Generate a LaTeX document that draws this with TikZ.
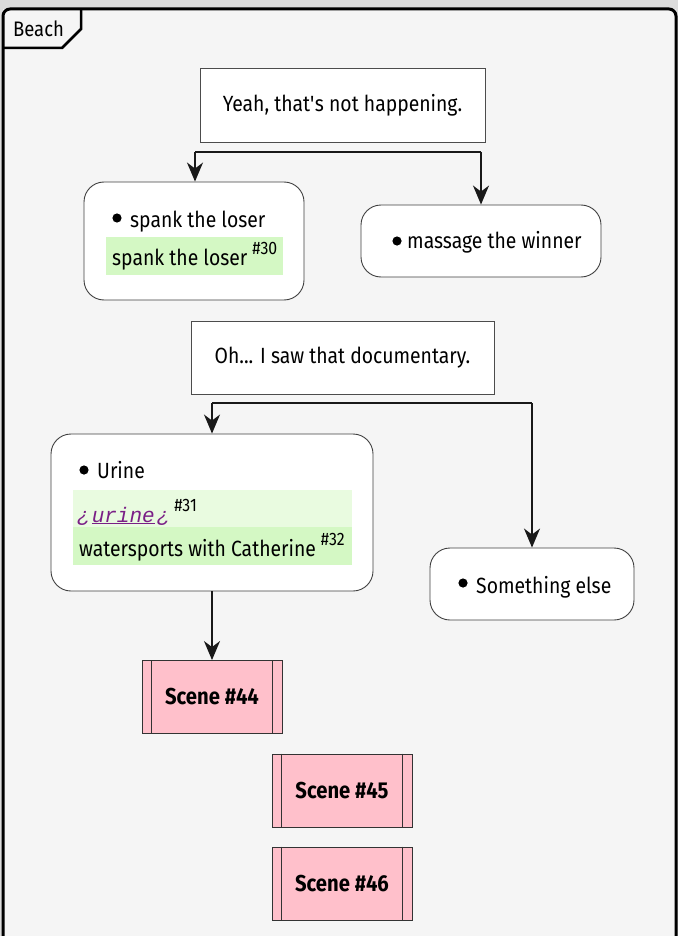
\documentclass[tikz,border=0pt]{standalone}
\usepackage{fontspec}
\setmainfont[FakeStretch=0.88]{Fira Sans}
\newfontfamily\monof{Liberation Mono}
\usetikzlibrary{arrows.meta}
\definecolor{bg}{HTML}{F5F5F5}
\definecolor{outer}{HTML}{DCDCDC}
\definecolor{hlA}{HTML}{D4F8C4}
\definecolor{hlB}{HTML}{E9FBE0}
\definecolor{scenepink}{HTML}{FFC0CB}
\definecolor{linkpurple}{HTML}{7A1F86}
\tikzset{
  notebox/.style={draw=black!70, fill=white, line width=0.8pt, inner sep=0pt},
  choice/.style={draw=black!75, fill=white, line width=0.9pt, rounded corners=20pt, inner sep=0pt},
  scenebox/.style={draw=black!80, fill=scenepink, line width=0.9pt, inner sep=0pt, minimum width=140pt, minimum height=73pt, font=\fontsize{23}{26}\selectfont\bfseries},
  hl/.style={inner sep=0pt, anchor=north west},
  txt/.style={inner sep=0pt, anchor=base west},
  dotb/.style={fill=black},
  flow/.style={line width=1.8pt, draw=black!90, -{Stealth[length=19pt,width=16pt,inset=6pt]}},
  bar/.style={line width=1.8pt, draw=black!90},
}
\newcommand{\sprs}[1]{\raisebox{11pt}{\fontsize{18}{18}\selectfont\hspace{5pt}#1}}
\begin{document}
\begin{tikzpicture}[x=1pt,y=-1pt,font=\fontsize{22}{26}\selectfont]
\useasboundingbox (0,0) rectangle (678,936);
\fill[outer] (0,0) rectangle (678,936);
\fill[bg] (3,9) rectangle (676,960);
\draw[line width=3pt, rounded corners=7pt] (3,960) -- (3,9) -- (676,9) -- (676,960);
\draw[line width=2.5pt] (81,9) -- (81,29) -- (62,48) -- (3,48);
\node[inner sep=0pt] (beach) at (38.5,29) {\fontsize{21}{24}\selectfont Beach};

% first question
\node[notebox, minimum width=285pt, minimum height=74pt] (q1) at (342.5,105) {Yeah, that\textquotesingle s not happening.};
\node[choice, minimum width=220pt, minimum height=118pt] (spank) at (194,241) {};
\node[choice, minimum width=240pt, minimum height=72pt] (massage) at (481,241) {};
\fill[dotb] (117,218) circle (4.6pt);
\node[txt] (spankt) at (130,227) {spank the loser};
\node[hl, fill=hlA, minimum width=177pt, minimum height=38pt] (spankhl) at (106,237) {};
\node[txt] (spankh) at (112,265) {spank the loser\sprs{\#30}};
\fill[dotb] (397,241) circle (4.6pt);
\node[txt] (massaget) at (407,248) {massage the winner};

\coordinate (f1l) at (195,152);
\coordinate (f1r) at (481,152);
\draw[bar] (f1l) -- (f1r);
\draw[flow] (f1l) -- (spank.north -| f1l);
\draw[flow] (f1r) -- (massage.north);

% second question
\node[notebox, minimum width=303pt, minimum height=73pt] (q2) at (342.5,357.5) {Oh... I saw that documentary.};
\node[choice, minimum width=322pt, minimum height=157pt] (urine) at (212,512.5) {};
\node[choice, minimum width=204pt, minimum height=72pt] (else) at (532,584) {};
\fill[dotb] (84,470) circle (4.6pt);
\node[txt] (urinet) at (97,478) {Urine};
\node[hl, fill=hlB, minimum width=279pt, minimum height=37pt] (urhlB) at (73,490) {};
\node[hl, fill=hlA, minimum width=279pt, minimum height=38pt] (urhlA) at (73,527) {};
\node[txt] (urlink) at (77,522) {\textcolor{linkpurple}{\monof\itshape\fontsize{21}{24}\selectfont ¿\hspace{2pt}\underline{urine}\hspace{2pt}¿}\sprs{\#31}};
\node[txt] (urwater) at (79,556) {watersports with Catherine\sprs{\#32}};
\fill[dotb] (463,583) circle (4.6pt);
\node[txt] (elset) at (476,593) {Something else};

\coordinate (f2l) at (212,403);
\coordinate (f2r) at (532,403);
\draw[bar] (f2l) -- (f2r);
\draw[flow] (f2l) -- (urine.north);
\draw[flow] (f2r) -- (else.north);

% scenes
\node[scenebox] (s44) at (212,697) {Scene \#44};
\node[scenebox] (s45) at (342,790.5) {Scene \#45};
\node[scenebox] (s46) at (342,883.5) {Scene \#46};
\foreach \s in {s44,s45,s46}{
  \draw[line width=0.8pt, draw=black!80] ([xshift=10pt]\s.north west) -- ([xshift=10pt]\s.south west);
  \draw[line width=0.8pt, draw=black!80] ([xshift=-10pt]\s.north east) -- ([xshift=-10pt]\s.south east);
}
\draw[flow] (urine.south) -- (s44.north);
\end{tikzpicture}
\end{document}
